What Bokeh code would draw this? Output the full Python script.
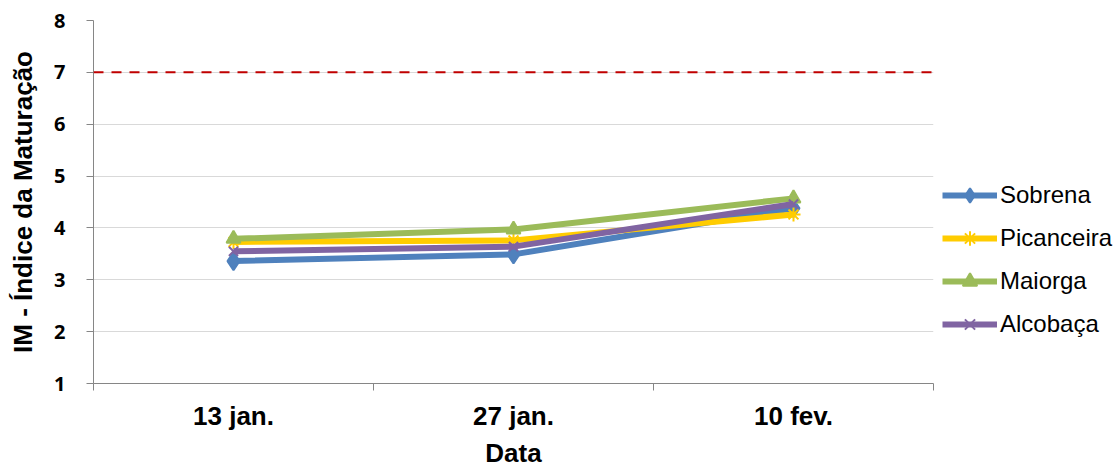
from bokeh.plotting import figure
from bokeh.models import FixedTicker, Legend, LegendItem, Span, Range1d
from bokeh.embed import file_html
from bokeh.resources import INLINE

categories = ["13 jan.", "27 jan.", "10 fev."]
sobrena = [3.36, 3.49, 4.38]
picanceira = [3.73, 3.76, 4.26]
maiorga = [3.79, 3.97, 4.57]
alcobaca = [3.55, 3.64, 4.46]
threshold = 7
y_ticks = [1, 2, 3, 4, 5, 6, 7, 8]

series = [
    ("Sobrena", sobrena, "#4F81BD", "diamond", 18),
    ("Picanceira", picanceira, "#FFCC00", "asterisk", 14),
    ("Maiorga", maiorga, "#9BBB59", "triangle", 14),
    ("Alcobaça", alcobaca, "#8064A2", "x", 13),
]

xs = [i + 0.5 for i in range(len(categories))]

p = figure(frame_width=840, frame_height=363, output_backend="svg", toolbar_location=None,
           x_range=Range1d(0, len(categories)), y_range=Range1d(1, 8),
           min_border_left=93, min_border_right=0, min_border_top=20, min_border_bottom=76)
p.outline_line_color = None
p.background_fill_color = "white"

# axes
p.xaxis.ticker = FixedTicker(ticks=xs, minor_ticks=list(range(len(categories) + 1)))
p.xaxis.major_label_overrides = {x: c for x, c in zip(xs, categories)}
p.xaxis.major_tick_line_color = None
p.xaxis.major_tick_out = 0
p.xaxis.major_tick_in = 0
p.xaxis.minor_tick_line_color = "#868686"
p.xaxis.minor_tick_out = 7
p.xaxis.minor_tick_in = 0
p.xaxis.axis_line_color = "#868686"
p.xaxis.major_label_text_font = "Liberation Sans"
p.xaxis.major_label_text_font_style = "bold"
p.xaxis.major_label_text_font_size = "26px"
p.xaxis.major_label_text_color = "#000000"
p.xaxis.major_label_standoff = 10
p.xaxis.axis_label = "Data"
p.xaxis.axis_label_text_font = "Liberation Sans"
p.xaxis.axis_label_text_font_style = "bold"
p.xaxis.axis_label_text_font_size = "26px"
p.xaxis.axis_label_text_color = "#000000"
p.xaxis.axis_label_standoff = 4
p.xgrid.grid_line_color = None

p.yaxis.ticker = FixedTicker(ticks=y_ticks)
p.yaxis.major_tick_line_color = "#868686"
p.yaxis.major_tick_out = 7
p.yaxis.major_tick_in = 0
p.yaxis.minor_tick_line_color = None
p.yaxis.axis_line_color = "#868686"
p.yaxis.major_label_text_font = "Open Sans"
p.yaxis.major_label_text_font_style = "bold"
p.yaxis.major_label_text_font_size = "20px"
p.yaxis.major_label_text_color = "#000000"
p.yaxis.major_label_standoff = 21
p.yaxis.axis_label = "IM - Índice da Maturação"
p.yaxis.axis_label_text_font = "Liberation Sans"
p.yaxis.axis_label_text_font_style = "bold"
p.yaxis.axis_label_text_font_size = "26px"
p.yaxis.axis_label_text_color = "#000000"
p.yaxis.axis_label_standoff = 13
p.ygrid.grid_line_color = "#D9D9D9"
p.ygrid.grid_line_width = 1

p.add_layout(Span(location=threshold, dimension="width", line_color="#C00000",
                  line_width=2, line_dash="10 8"))

items = []
for name, vals, color, marker, size in series:
    ln = p.line(xs, vals, line_color=color, line_width=6)
    sc = p.scatter(xs, vals, marker=marker, size=size, fill_color=color,
                   line_color=color, line_width=2)
    items.append(LegendItem(label=name, renderers=[ln, sc]))

legend = Legend(items=items, location=(9, 41), glyph_width=55, glyph_height=36,
                spacing=7, label_standoff=3, padding=0, margin=9,
                label_text_font="Liberation Sans", label_text_font_size="24px",
                label_text_color="#000000", border_line_color=None,
                background_fill_alpha=0)
p.add_layout(legend, "right")

open("out.html", "w").write(file_html(p, INLINE))
